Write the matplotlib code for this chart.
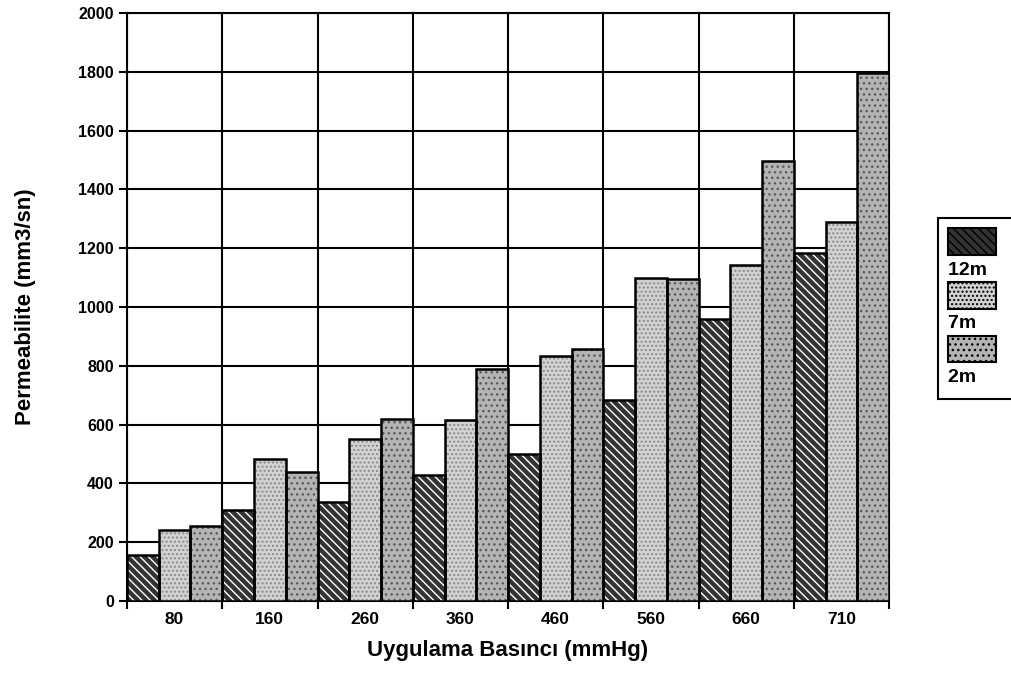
import matplotlib.pyplot as plt
import numpy as np
from matplotlib.patches import Patch

plt.rcParams['font.family'] = ['Liberation Sans', 'DejaVu Sans']
plt.rcParams['font.weight'] = 'bold'

basinc = ['80', '160', '260', '360', '460', '560', '660', '710']
seri_12m = [158, 308, 338, 428, 500, 682, 960, 1185]
seri_7m = [240, 482, 550, 615, 832, 1098, 1142, 1290]
seri_2m = [256, 438, 620, 788, 856, 1095, 1495, 1797]
etiketler = ['12m', '7m', '2m']

stiller = [
    dict(color='#333333', hatch='\\\\\\\\', hc='white'),
    dict(color='#d2d2d2', hatch='....', hc='#8a8a8a'),
    dict(color='#b4b4b4', hatch='...', hc='#5a5a5a'),
]

fig = plt.figure(figsize=(10.11, 6.73), dpi=100)
ax = fig.add_axes([0.1256, 0.107, 0.7538, 0.8737])

x = np.arange(len(basinc))
w = 1 / 3.
for i, (vals, st) in enumerate(zip([seri_12m, seri_7m, seri_2m], stiller)):
    pos = x - 0.5 + w * (i + 0.5)
    ax.bar(pos, vals, w, facecolor=st['color'], edgecolor=st['hc'],
           hatch=st['hatch'], linewidth=0, zorder=3)
    ax.bar(pos, vals, w, fill=False, edgecolor='black', linewidth=1.8, zorder=4)

ax.set_xlim(-0.5, len(basinc) - 0.5)
ax.set_ylim(0, 2000)
ax.set_yticks(np.arange(0, 2001, 200))
ax.set_xticks(x)
ax.set_xticklabels(basinc)
ax.set_xticks(np.arange(len(basinc) + 1) - 0.5, minor=True)
ax.tick_params(axis='x', which='major', length=0, pad=8, labelsize=12.5)
ax.tick_params(axis='x', which='minor', length=6, width=1.5)
ax.tick_params(axis='y', length=6, width=1.5, labelsize=11.5)

ax.grid(True, axis='y', color='black', linewidth=1.5, zorder=0)
ax.grid(True, axis='x', which='minor', color='black', linewidth=1.5, zorder=0)
ax.set_axisbelow(True)
for s in ax.spines.values():
    s.set_linewidth(1.5)

ax.set_ylabel('Permeabilite (mm3/sn)', fontsize=16, fontweight='bold', labelpad=30)
ax.set_xlabel('Uygulama Basıncı (mmHg)', fontsize=16, fontweight='bold', labelpad=9)

# legend: patch above, label below
handles, labels = [], []
for lab, st in zip(etiketler, stiller):
    handles.append(Patch(facecolor=st['color'], edgecolor='black', hatch=st['hatch'], linewidth=1.5))
    labels.append('')
    handles.append(Patch(facecolor='none', edgecolor='none'))
    labels.append(lab + '    ')
leg = fig.legend(handles, labels, loc='upper left', bbox_to_anchor=(0.918, 0.69),
                 handlelength=2.5, handleheight=1.75, handletextpad=-2.5,
                 labelspacing=0.0, borderpad=0.5, fontsize=14, fancybox=False,
                 edgecolor='black', framealpha=1)
leg.get_frame().set_linewidth(1.5)

fig.savefig('out.png', dpi=100)
